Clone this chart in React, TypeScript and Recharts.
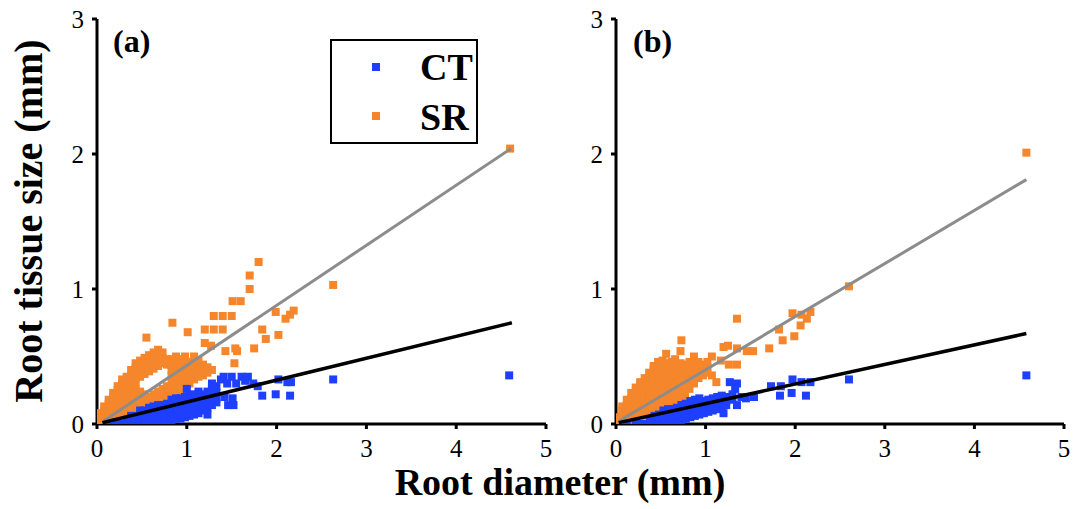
import React from 'react';
import { ScatterChart, Scatter, XAxis, YAxis, ZAxis, Legend } from 'recharts';

type Pt = [number, number];

const xTicks = [0, 1, 2, 3, 4, 5];
const yTicks = [0, 1, 2, 3];
const seriesNames = ['CT', 'SR'];

// panel (a) — SR points
const srA: Pt[] = [
  [0.03, 0.02], [0.03, 0.05], [0.03, 0.08],
  [0.08, 0.02], [0.08, 0.06], [0.08, 0.1], [0.08, 0.13],
  [0.13, 0.03], [0.13, 0.07], [0.13, 0.11], [0.13, 0.15], [0.13, 0.18],
  [0.18, 0.04], [0.18, 0.08], [0.18, 0.12], [0.18, 0.16], [0.18, 0.2], [0.18, 0.23],
  [0.23, 0.05], [0.23, 0.09], [0.23, 0.13], [0.23, 0.17], [0.23, 0.21], [0.23, 0.25], [0.23, 0.28],
  [0.28, 0.06], [0.28, 0.1], [0.28, 0.14], [0.28, 0.18], [0.28, 0.22], [0.28, 0.26], [0.28, 0.3], [0.28, 0.33],
  [0.33, 0.07], [0.33, 0.11], [0.33, 0.15], [0.33, 0.19], [0.33, 0.23], [0.33, 0.27], [0.33, 0.31], [0.33, 0.35],
  [0.38, 0.08], [0.38, 0.12], [0.38, 0.16], [0.38, 0.2], [0.38, 0.24], [0.38, 0.28], [0.38, 0.32], [0.38, 0.36], [0.38, 0.4],
  [0.43, 0.1], [0.43, 0.14], [0.43, 0.18], [0.43, 0.22], [0.43, 0.26], [0.43, 0.3], [0.43, 0.34], [0.43, 0.38], [0.43, 0.42], [0.43, 0.45],
  [0.48, 0.12], [0.48, 0.16], [0.48, 0.2], [0.48, 0.24], [0.48, 0.35], [0.48, 0.39], [0.48, 0.43], [0.48, 0.47],
  [0.53, 0.14], [0.53, 0.18], [0.53, 0.22], [0.53, 0.37], [0.53, 0.41], [0.53, 0.45], [0.53, 0.49],
  [0.58, 0.12], [0.58, 0.16], [0.58, 0.2], [0.58, 0.39], [0.58, 0.43], [0.58, 0.47], [0.58, 0.51],
  [0.63, 0.14], [0.63, 0.18], [0.63, 0.22], [0.63, 0.41], [0.63, 0.45], [0.63, 0.49], [0.63, 0.53],
  [0.68, 0.16], [0.68, 0.2], [0.68, 0.24], [0.68, 0.43], [0.68, 0.47], [0.68, 0.51], [0.68, 0.55],
  [0.73, 0.18], [0.73, 0.22], [0.73, 0.26], [0.73, 0.45], [0.73, 0.49], [0.73, 0.53],
  [0.78, 0.2], [0.78, 0.24], [0.78, 0.28], [0.78, 0.44], [0.78, 0.48],
  [0.83, 0.2], [0.83, 0.24], [0.83, 0.28], [0.83, 0.32], [0.83, 0.36], [0.83, 0.4], [0.83, 0.44], [0.83, 0.48],
  [0.88, 0.22], [0.88, 0.26], [0.88, 0.3], [0.88, 0.34], [0.88, 0.38], [0.88, 0.42], [0.88, 0.46], [0.88, 0.5],
  [0.93, 0.24], [0.93, 0.28], [0.93, 0.32], [0.93, 0.36], [0.93, 0.4], [0.93, 0.44], [0.93, 0.48],
  [0.98, 0.27], [0.98, 0.31], [0.98, 0.35], [0.98, 0.39], [0.98, 0.43], [0.98, 0.47], [0.98, 0.5],
  [1.03, 0.3], [1.03, 0.34], [1.03, 0.38], [1.03, 0.42], [1.03, 0.46],
  [1.08, 0.33], [1.08, 0.37], [1.08, 0.41], [1.08, 0.45], [1.08, 0.5],
  [1.13, 0.35], [1.13, 0.39], [1.13, 0.43], [1.13, 0.47],
  [1.18, 0.36], [1.18, 0.4], [1.18, 0.44], [1.23, 0.38], [1.23, 0.42], [1.28, 0.4],
  [0.59, 0.06], [0.71, 0.06], [0.55, 0.64], [0.84, 0.75], [1.01, 0.68], [1.2, 0.6], [1.27, 0.58],
  [1.2, 0.7], [1.3, 0.7], [1.4, 0.7], [1.3, 0.8], [1.4, 0.8], [1.5, 0.8], [1.51, 0.91], [1.6, 0.91],
  [1.7, 1.0], [1.7, 1.1], [1.8, 1.2], [1.43, 0.54], [1.54, 0.56], [1.56, 0.54], [1.53, 0.45], [1.75, 0.56],
  [1.84, 0.7], [1.88, 0.63], [2.02, 0.66], [1.99, 0.83], [2.1, 0.78], [2.15, 0.81], [2.19, 0.84], [2.63, 1.03],
  [4.6, 2.04],
];

// panel (a) — CT points
const ctA: Pt[] = [
  [0.12, 0.0], [0.2, 0.01], [0.28, 0.0],
  [0.33, 0.0], [0.33, 0.03], [0.38, 0.0], [0.38, 0.03], [0.38, 0.06], [0.43, 0.0], [0.43, 0.03], [0.43, 0.06],
  [0.48, 0.01], [0.48, 0.04], [0.48, 0.07], [0.48, 0.1], [0.53, 0.01], [0.53, 0.04], [0.53, 0.07], [0.53, 0.1],
  [0.58, 0.01], [0.58, 0.04], [0.58, 0.07], [0.58, 0.1], [0.58, 0.12],
  [0.63, 0.02], [0.63, 0.05], [0.63, 0.08], [0.63, 0.11], [0.63, 0.13],
  [0.68, 0.02], [0.68, 0.05], [0.68, 0.08], [0.68, 0.11], [0.68, 0.14],
  [0.73, 0.02], [0.73, 0.05], [0.73, 0.08], [0.73, 0.11], [0.73, 0.14],
  [0.78, 0.03], [0.78, 0.06], [0.78, 0.09], [0.78, 0.12], [0.78, 0.15],
  [0.83, 0.03], [0.83, 0.06], [0.83, 0.09], [0.83, 0.12], [0.83, 0.15], [0.83, 0.18],
  [0.88, 0.04], [0.88, 0.07], [0.88, 0.1], [0.88, 0.13], [0.88, 0.16], [0.88, 0.19],
  [0.93, 0.04], [0.93, 0.07], [0.93, 0.1], [0.93, 0.13], [0.93, 0.16], [0.93, 0.19],
  [0.98, 0.05], [0.98, 0.08], [0.98, 0.11], [0.98, 0.14], [0.98, 0.17], [0.98, 0.2],
  [1.03, 0.06], [1.03, 0.09], [1.03, 0.12], [1.03, 0.15], [1.03, 0.18], [1.03, 0.21],
  [1.08, 0.07], [1.08, 0.1], [1.08, 0.13], [1.08, 0.16], [1.08, 0.19], [1.08, 0.22],
  [1.13, 0.08], [1.13, 0.11], [1.13, 0.14], [1.13, 0.17], [1.13, 0.2], [1.13, 0.24],
  [1.18, 0.1], [1.18, 0.13], [1.18, 0.16], [1.18, 0.19], [1.18, 0.22],
  [1.23, 0.07], [1.23, 0.12], [1.23, 0.15], [1.23, 0.18], [1.23, 0.21], [1.23, 0.24],
  [1.28, 0.14], [1.28, 0.17], [1.28, 0.2], [1.28, 0.23], [1.28, 0.27], [1.28, 0.3],
  [1.33, 0.16], [1.33, 0.19], [1.33, 0.23], [1.33, 0.28],
  [1.0, 0.26], [1.41, 0.35], [1.5, 0.35], [1.61, 0.35], [1.68, 0.35], [1.38, 0.33], [1.45, 0.3],
  [1.55, 0.3], [1.65, 0.32], [1.42, 0.2], [1.51, 0.19], [1.46, 0.14], [1.52, 0.14], [1.74, 0.3],
  [1.79, 0.28], [1.84, 0.21], [1.99, 0.22], [2.02, 0.33], [2.12, 0.31], [2.16, 0.31], [2.15, 0.21],
  [2.63, 0.33], [4.59, 0.36],
];

// panel (b) — SR points
const srB: Pt[] = [
  [0.02, 0.02], [0.02, 0.05],
  [0.07, 0.02], [0.07, 0.06], [0.07, 0.1], [0.07, 0.13],
  [0.12, 0.02], [0.12, 0.06], [0.12, 0.1], [0.12, 0.14], [0.12, 0.18],
  [0.17, 0.03], [0.17, 0.07], [0.17, 0.11], [0.17, 0.15], [0.17, 0.19], [0.17, 0.23],
  [0.22, 0.04], [0.22, 0.08], [0.22, 0.12], [0.22, 0.16], [0.22, 0.2], [0.22, 0.24], [0.22, 0.27],
  [0.27, 0.05], [0.27, 0.09], [0.27, 0.13], [0.27, 0.17], [0.27, 0.21], [0.27, 0.25], [0.27, 0.29], [0.27, 0.31],
  [0.32, 0.06], [0.32, 0.1], [0.32, 0.14], [0.32, 0.18], [0.32, 0.22], [0.32, 0.26], [0.32, 0.3], [0.32, 0.34],
  [0.37, 0.07], [0.37, 0.11], [0.37, 0.15], [0.37, 0.19], [0.37, 0.23], [0.37, 0.27], [0.37, 0.31], [0.37, 0.35], [0.37, 0.38],
  [0.42, 0.08], [0.42, 0.12], [0.42, 0.16], [0.42, 0.2], [0.42, 0.24], [0.42, 0.28], [0.42, 0.32], [0.42, 0.36], [0.42, 0.4], [0.42, 0.43],
  [0.47, 0.1], [0.47, 0.14], [0.47, 0.18], [0.47, 0.22], [0.47, 0.26], [0.47, 0.3], [0.47, 0.34], [0.47, 0.38], [0.47, 0.42], [0.47, 0.46],
  [0.52, 0.11], [0.52, 0.15], [0.52, 0.19], [0.52, 0.23], [0.52, 0.27], [0.52, 0.31], [0.52, 0.35], [0.52, 0.39], [0.52, 0.43], [0.52, 0.47],
  [0.57, 0.13], [0.57, 0.17], [0.57, 0.21], [0.57, 0.25], [0.57, 0.29], [0.57, 0.33], [0.57, 0.37], [0.57, 0.41], [0.57, 0.45], [0.56, 0.52],
  [0.62, 0.14], [0.62, 0.18], [0.62, 0.22], [0.62, 0.26], [0.62, 0.3], [0.62, 0.34], [0.62, 0.38], [0.62, 0.42], [0.62, 0.46],
  [0.67, 0.16], [0.67, 0.2], [0.67, 0.24], [0.67, 0.28], [0.67, 0.32], [0.67, 0.36], [0.67, 0.4], [0.67, 0.44], [0.66, 0.48],
  [0.72, 0.17], [0.72, 0.21], [0.72, 0.25], [0.72, 0.29], [0.72, 0.33], [0.72, 0.37], [0.72, 0.41], [0.72, 0.45],
  [0.77, 0.2], [0.77, 0.24], [0.77, 0.28], [0.77, 0.32], [0.77, 0.36], [0.77, 0.4], [0.77, 0.44],
  [0.82, 0.26], [0.82, 0.3], [0.82, 0.34], [0.82, 0.38], [0.82, 0.42], [0.82, 0.46],
  [0.87, 0.3], [0.87, 0.34], [0.87, 0.38], [0.87, 0.42], [0.87, 0.46], [0.87, 0.5],
  [0.92, 0.34], [0.92, 0.38], [0.92, 0.42], [0.92, 0.46], [0.97, 0.36], [0.97, 0.4], [0.97, 0.44],
  [1.02, 0.38], [1.02, 0.42], [1.02, 0.46], [1.07, 0.36], [1.07, 0.5],
  [0.72, 0.54], [0.73, 0.62], [1.12, 0.31], [1.17, 0.47], [1.2, 0.57], [1.25, 0.58], [1.26, 0.44],
  [1.35, 0.56], [1.35, 0.44], [1.35, 0.78], [1.46, 0.54], [1.53, 0.54], [1.71, 0.56], [1.82, 0.7], [1.86, 0.62],
  [1.99, 0.65], [1.97, 0.82], [2.07, 0.81], [2.17, 0.83], [2.13, 0.78], [2.06, 0.73], [2.6, 1.02], [4.58, 2.01],
];

// panel (b) — CT points
const ctB: Pt[] = [
  [0.12, 0.0], [0.22, 0.01], [0.3, 0.0],
  [0.38, 0.0], [0.38, 0.03], [0.43, 0.0], [0.43, 0.03], [0.43, 0.06], [0.48, 0.01], [0.48, 0.04], [0.48, 0.07],
  [0.53, 0.01], [0.53, 0.04], [0.53, 0.07], [0.53, 0.1], [0.58, 0.02], [0.58, 0.05], [0.58, 0.08], [0.58, 0.11],
  [0.63, 0.02], [0.63, 0.05], [0.63, 0.08], [0.63, 0.11], [0.68, 0.03], [0.68, 0.06], [0.68, 0.09], [0.68, 0.12],
  [0.73, 0.03], [0.73, 0.06], [0.73, 0.09], [0.73, 0.12], [0.73, 0.14],
  [0.78, 0.04], [0.78, 0.07], [0.78, 0.1], [0.78, 0.13], [0.78, 0.15],
  [0.83, 0.05], [0.83, 0.08], [0.83, 0.11], [0.83, 0.14], [0.83, 0.17],
  [0.88, 0.06], [0.88, 0.09], [0.88, 0.12], [0.88, 0.15], [0.88, 0.18],
  [0.93, 0.07], [0.93, 0.1], [0.93, 0.13], [0.93, 0.16], [0.93, 0.19],
  [0.98, 0.08], [0.98, 0.11], [0.98, 0.14], [0.98, 0.17], [1.03, 0.09], [1.03, 0.12], [1.03, 0.15], [1.03, 0.18],
  [1.08, 0.1], [1.08, 0.13], [1.08, 0.16], [1.08, 0.19], [1.13, 0.11], [1.13, 0.14], [1.13, 0.17], [1.13, 0.2],
  [1.18, 0.12], [1.18, 0.15], [1.18, 0.18], [1.18, 0.21], [1.23, 0.14], [1.23, 0.17], [1.23, 0.2],
  [1.2, 0.08], [1.27, 0.31], [1.35, 0.3], [1.33, 0.26], [1.35, 0.14], [1.3, 0.18], [1.3, 0.22], [1.4, 0.2],
  [1.45, 0.19], [1.54, 0.2], [1.73, 0.28], [1.84, 0.28], [1.83, 0.21], [1.96, 0.23], [1.97, 0.33], [2.07, 0.31],
  [2.17, 0.31], [2.12, 0.21], [2.6, 0.33], [4.58, 0.36],
];

// fitted lines (start and end of each regression)
const fitSrA: Pt[] = [[0.07, 0.02], [4.61, 2.04]];
const fitCtA: Pt[] = [[0.06, 0.01], [4.62, 0.75]];
const fitSrB: Pt[] = [[0.03, 0.02], [4.58, 1.81]];
const fitCtB: Pt[] = [[0.03, 0.01], [4.58, 0.67]];

const BLUE = '#1f3fff';
const ORANGE = '#f5862b';
const GREY = '#8c8c8c';
const FONT = 'Liberation Serif, serif';

const toRows = (pts: Pt[]) => pts.map(([x, y]) => ({ x, y }));

const Nothing = () => <g />;

const LegendBox = ({ payload }: any) => {
  const items = (payload || []).filter((p: any) => seriesNames.includes(p.value));
  const order = seriesNames.map((n) => items.find((p: any) => p.value === n)).filter(Boolean);
  return (
    <div style={{ position: 'relative', width: 148, height: 105, border: '2px solid #000', boxSizing: 'border-box', fontFamily: FONT }}>
      {order.map((p: any, i: number) => (
        <React.Fragment key={p.value}>
          <div style={{ position: 'absolute', left: 40, top: 22 + i * 49, width: 8, height: 8, background: p.color }} />
          <div style={{ position: 'absolute', left: 88, top: 7 + i * 50, fontSize: 38, lineHeight: 1, fontWeight: 'bold', color: '#000' }}>
            {p.value}
          </div>
        </React.Fragment>
      ))}
    </div>
  );
};

type PanelProps = {
  left: number;
  width: number;
  margin: { top: number; right: number; bottom: number; left: number };
  yWidth: number;
  sr: Pt[];
  ct: Pt[];
  fitSr: Pt[];
  fitCt: Pt[];
  legend?: boolean;
};

function Panel({ left, width, margin, yWidth, sr, ct, fitSr, fitCt, legend }: PanelProps) {
  const tickStyle = { fontSize: 25, fill: '#000', fontFamily: FONT };
  return (
    <div style={{ position: 'absolute', left, top: 0 }}>
      <ScatterChart width={width} height={509} margin={margin} style={{ fontFamily: FONT }}>
        <XAxis
          type="number"
          dataKey="x"
          domain={[0, 5]}
          ticks={xTicks}
          interval={0}
          height={40}
          tickSize={5}
          tickMargin={10}
          axisLine={{ stroke: '#000', strokeWidth: 3 }}
          tickLine={{ stroke: '#000', strokeWidth: 3 }}
          tick={tickStyle}
          allowDataOverflow
        />
        <YAxis
          type="number"
          dataKey="y"
          domain={[0, 3]}
          ticks={yTicks}
          interval={0}
          width={yWidth}
          tickSize={5}
          tickMargin={8}
          axisLine={{ stroke: '#000', strokeWidth: 3 }}
          tickLine={{ stroke: '#000', strokeWidth: 3 }}
          tick={tickStyle}
          allowDataOverflow
        />
        <ZAxis range={[90, 90]} />
        {legend && (
          <Legend
            layout="horizontal"
            verticalAlign="middle"
            align="center"
            content={<LegendBox />}
            wrapperStyle={{ position: 'absolute', left: 330, top: 39, width: 148, height: 105 }}
          />
        )}
        <Scatter name="SR" data={toRows(sr)} fill={ORANGE} shape="square" isAnimationActive={false} />
        <Scatter name="CT" data={toRows(ct)} fill={BLUE} shape="square" isAnimationActive={false} />
        <Scatter
          name="SR fit"
          data={toRows(fitSr)}
          line={{ stroke: GREY, strokeWidth: 3 }}
          shape={<Nothing />}
          legendType="none"
          isAnimationActive={false}
        />
        <Scatter
          name="CT fit"
          data={toRows(fitCt)}
          line={{ stroke: '#000', strokeWidth: 3.5 }}
          shape={<Nothing />}
          legendType="none"
          isAnimationActive={false}
        />
      </ScatterChart>
    </div>
  );
}

export default function App() {
  return (
    <div style={{ position: 'absolute', left: 0, top: 0, width: 1074, height: 509, background: '#fff', fontFamily: FONT }}>
      <Panel
        left={0}
        width={560}
        margin={{ top: 19, right: 14, bottom: 45, left: 37 }}
        yWidth={60}
        sr={srA}
        ct={ctA}
        fitSr={fitSrA}
        fitCt={fitCtA}
        legend
      />
      <Panel
        left={560}
        width={514}
        margin={{ top: 19, right: 10, bottom: 45, left: 6 }}
        yWidth={50}
        sr={srB}
        ct={ctB}
        fitSr={fitSrB}
        fitCt={fitCtB}
      />
      <svg width={1074} height={509} style={{ position: 'absolute', left: 0, top: 0, pointerEvents: 'none' }}>
        <text x={113} y={52} fontSize={32} fontWeight="bold" fontFamily={FONT}>(a)</text>
        <text x={633} y={52} fontSize={32} fontWeight="bold" fontFamily={FONT}>(b)</text>
        <text x={560} y={495} fontSize={38} fontWeight="bold" textAnchor="middle" fontFamily={FONT}>
          Root diameter (mm)
        </text>
        <text
          x={42}
          y={221}
          fontSize={40}
          fontWeight="bold"
          textAnchor="middle"
          fontFamily={FONT}
          transform="rotate(-90 42 221)"
        >
          Root tissue size (mm)
        </text>
      </svg>
    </div>
  );
}
